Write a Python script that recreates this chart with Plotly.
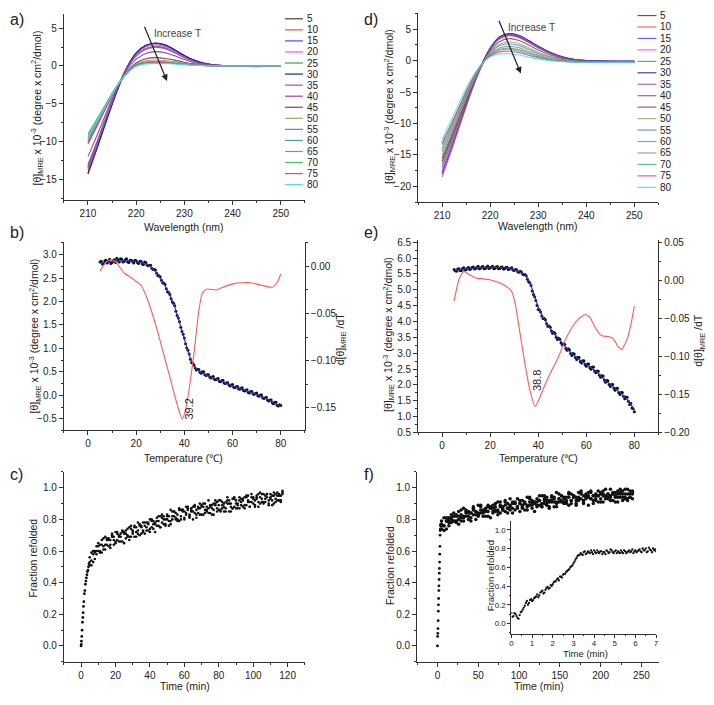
import plotly.graph_objects as go

W, H = 714, 705
FONT = "Liberation Sans, Arial, sans-serif"


def px(x):
    return x / W


def py(y):
    return 1 - y / H


# ---------------- data: CD spectra (a, d) ----------------
temps = [5, 10, 15, 20, 25, 30, 35, 40, 45, 50, 55, 60, 65, 70, 75, 80]
colors = ["#404040", "#FF4848", "#4848FF", "#FF48FF", "#40A040", "#202090",
          "#9050D0", "#A040A0", "#804848", "#A8A070", "#6088B8", "#50A0A0",
          "#A09070", "#40C070", "#E040A0", "#40E0E0"]
wl = [210, 212, 214, 216, 218, 220, 222, 224, 226, 228, 230, 232, 234, 236, 238, 240, 245, 250]

a05 = [-13.5, -10.1, -6.6, -3.2, -0.3, 1.7, 2.7, 3.0, 2.75, 2.1, 1.35, 0.75, 0.35, 0.15, 0.05, 0.0, -0.02, 0.0]
a10 = [-13.8, -10.3, -6.7, -3.25, -0.3, 1.65, 2.65, 2.95, 2.7, 2.05, 1.3, 0.7, 0.35, 0.15, 0.05, 0.0, -0.02, 0.0]
a15 = [-14.2, -10.6, -6.9, -3.35, -0.35, 1.65, 2.7, 3.0, 2.75, 2.1, 1.35, 0.75, 0.35, 0.15, 0.05, 0.0, -0.05, 0.0]
a20 = [-13.2, -9.9, -6.4, -3.1, -0.3, 1.55, 2.5, 2.8, 2.55, 1.95, 1.25, 0.7, 0.3, 0.12, 0.04, 0.0, -0.02, 0.0]
a25 = [-13.0, -9.8, -6.3, -3.05, -0.35, 1.4, 2.3, 2.6, 2.4, 1.8, 1.15, 0.62, 0.28, 0.1, 0.03, 0.0, -0.02, 0.0]
a30 = [-14.3, -10.7, -6.95, -3.4, -0.3, 1.75, 2.75, 3.05, 2.8, 2.15, 1.4, 0.78, 0.38, 0.16, 0.06, 0.0, -0.08, 0.0]
a35 = [-13.3, -10.0, -6.5, -3.1, -0.4, 1.3, 2.2, 2.5, 2.3, 1.75, 1.1, 0.6, 0.28, 0.1, 0.03, 0.0, -0.02, 0.0]
a40 = [-12.0, -9.0, -5.9, -2.9, -0.55, 0.9, 1.65, 1.9, 1.75, 1.35, 0.85, 0.45, 0.2, 0.08, 0.02, 0.0, -0.02, 0.0]
a45 = [-10.3, -7.8, -5.2, -2.75, -0.8, 0.4, 0.95, 1.1, 1.0, 0.78, 0.5, 0.28, 0.12, 0.05, 0.01, 0.0, -0.01, 0.0]
a50 = [-10.0, -7.6, -5.1, -2.7, -0.9, 0.25, 0.7, 0.8, 0.72, 0.55, 0.37, 0.2, 0.1, 0.04, 0.01, 0.0, 0.0, 0.0]
a55 = [-9.6, -7.3, -4.9, -2.7, -0.95, 0.15, 0.52, 0.6, 0.55, 0.42, 0.28, 0.16, 0.08, 0.03, 0.01, 0.0, 0.0, 0.0]
a60 = [-9.8, -7.4, -5.0, -2.7, -1.0, 0.1, 0.48, 0.55, 0.5, 0.4, 0.26, 0.15, 0.07, 0.03, 0.01, 0.0, 0.0, 0.0]
a65 = [-9.3, -7.1, -4.8, -2.65, -1.0, 0.05, 0.42, 0.5, 0.46, 0.36, 0.24, 0.14, 0.07, 0.03, 0.0, 0.0, 0.0, 0.0]
a70 = [-9.0, -6.9, -4.7, -2.6, -1.0, 0.05, 0.42, 0.5, 0.46, 0.36, 0.24, 0.14, 0.07, 0.03, 0.0, 0.0, 0.0, 0.0]
a75 = [-10.2, -7.7, -5.2, -2.8, -1.05, 0.02, 0.38, 0.45, 0.42, 0.33, 0.22, 0.13, 0.06, 0.02, 0.0, 0.0, 0.0, 0.0]
a80 = [-9.5, -7.2, -4.9, -2.7, -1.05, -0.05, 0.28, 0.35, 0.33, 0.27, 0.18, 0.1, 0.05, 0.02, 0.0, 0.0, 0.0, 0.0]

d05 = [-15.5, -11.8, -7.9, -4.2, -0.9, 1.9, 3.7, 4.2, 3.95, 3.15, 2.25, 1.45, 0.8, 0.38, 0.12, 0.0, -0.1, -0.1]
d10 = [-16.0, -12.2, -8.2, -4.4, -1.0, 1.9, 3.7, 4.2, 3.9, 3.1, 2.2, 1.4, 0.8, 0.35, 0.12, 0.0, -0.1, -0.1]
d15 = [-17.0, -13.0, -8.8, -4.7, -1.1, 1.95, 3.8, 4.3, 4.0, 3.2, 2.3, 1.5, 0.85, 0.4, 0.15, 0.0, -0.1, -0.1]
d20 = [-17.5, -13.4, -9.0, -4.8, -1.2, 1.8, 3.6, 4.1, 3.8, 3.0, 2.15, 1.4, 0.8, 0.35, 0.12, 0.0, -0.1, -0.1]
d25 = [-16.5, -12.6, -8.5, -4.5, -1.1, 1.8, 3.5, 4.0, 3.7, 2.95, 2.1, 1.35, 0.75, 0.33, 0.1, -0.02, -0.12, -0.12]
d30 = [-18.0, -13.8, -9.3, -4.9, -1.0, 2.0, 3.8, 4.3, 4.0, 3.2, 2.3, 1.5, 0.85, 0.4, 0.15, 0.0, -0.1, -0.1]
d35 = [-18.5, -14.2, -9.6, -5.1, -1.2, 1.9, 3.7, 4.2, 3.9, 3.1, 2.2, 1.4, 0.8, 0.35, 0.12, -0.02, -0.12, -0.12]
d40 = [-17.8, -13.7, -9.3, -5.0, -1.2, 1.8, 3.5, 4.0, 3.7, 2.9, 2.05, 1.3, 0.7, 0.3, 0.08, -0.05, -0.15, -0.15]
d45 = [-16.0, -12.3, -8.3, -4.5, -1.2, 1.5, 3.05, 3.5, 3.2, 2.5, 1.7, 1.05, 0.55, 0.2, 0.02, -0.1, -0.18, -0.18]
d50 = [-15.0, -11.5, -7.8, -4.2, -1.1, 1.3, 2.6, 3.0, 2.7, 2.05, 1.35, 0.8, 0.38, 0.1, -0.05, -0.15, -0.2, -0.2]
d55 = [-14.5, -11.1, -7.5, -4.0, -1.0, 1.2, 2.4, 2.7, 2.4, 1.8, 1.15, 0.65, 0.28, 0.05, -0.1, -0.18, -0.22, -0.22]
d60 = [-14.0, -10.7, -7.2, -3.8, -1.0, 1.0, 2.05, 2.3, 2.05, 1.5, 0.9, 0.45, 0.15, -0.03, -0.15, -0.22, -0.25, -0.25]
d65 = [-13.5, -10.3, -6.9, -3.6, -0.9, 0.9, 1.8, 2.0, 1.75, 1.25, 0.72, 0.32, 0.05, -0.1, -0.2, -0.25, -0.28, -0.28]
d70 = [-13.0, -9.9, -6.6, -3.4, -0.85, 0.85, 1.65, 1.8, 1.55, 1.1, 0.6, 0.25, 0.0, -0.14, -0.22, -0.27, -0.3, -0.3]
d75 = [-13.2, -10.0, -6.6, -3.4, -0.85, 0.75, 1.4, 1.5, 1.28, 0.85, 0.45, 0.15, -0.05, -0.17, -0.24, -0.28, -0.3, -0.3]
d80 = [-12.5, -9.3, -6.0, -3.0, -0.7, 0.6, 1.05, 1.1, 0.9, 0.55, 0.25, 0.05, -0.1, -0.2, -0.25, -0.3, -0.3, -0.3]

spec_a = [a05, a10, a15, a20, a25, a30, a35, a40, a45, a50, a55, a60, a65, a70, a75, a80]
spec_d = [d05, d10, d15, d20, d25, d30, d35, d40, d45, d50, d55, d60, d65, d70, d75, d80]

# ---------------- data: thermal melts (b, e) ----------------
T1 = [5, 6, 7, 8, 9, 10, 11, 12, 13, 14, 15, 16, 17, 18, 19, 20, 21, 22, 23, 24,
      25, 26, 27, 28, 29, 30, 31, 32, 33, 34, 35, 36, 37, 38, 39, 40, 41, 42, 43, 44,
      45, 46, 47, 48, 49, 50, 51, 52, 53, 54, 55, 56, 57, 58, 59, 60, 61, 62, 63, 64,
      65, 66, 67, 68, 69, 70, 71, 72, 73, 74, 75, 76, 77, 78, 79, 80]
T2 = [5.5, 6.5, 7.5, 8.5, 9.5, 10.5, 11.5, 12.5, 13.5, 14.5, 15.5, 16.5, 17.5, 18.5, 19.5,
      20.5, 21.5, 22.5, 23.5, 24.5, 25.5, 26.5, 27.5, 28.5, 29.5, 30.5, 31.5, 32.5, 33.5,
      34.5, 35.5, 36.5, 37.5, 38.5, 39.5, 40.5, 41.5, 42.5, 43.5, 44.5, 45.5, 46.5, 47.5,
      48.5, 49.5, 50.5, 51.5, 52.5, 53.5, 54.5, 55.5, 56.5, 57.5, 58.5, 59.5, 60.5, 61.5,
      62.5, 63.5, 64.5, 65.5, 66.5, 67.5, 68.5, 69.5, 70.5, 71.5, 72.5, 73.5, 74.5, 75.5,
      76.5, 77.5, 78.5, 79.5]

b_y1 = [2.84, 2.80, 2.87, 2.82, 2.90, 2.83, 2.89, 2.92, 2.84, 2.90,
        2.85, 2.91, 2.83, 2.88, 2.82, 2.87, 2.81, 2.86, 2.79, 2.83,
        2.76, 2.77, 2.68, 2.67, 2.55, 2.52, 2.40, 2.36, 2.21, 2.15,
        1.99, 1.91, 1.70, 1.57, 1.36, 1.22, 1.01, 0.88, 0.70, 0.64,
        0.54, 0.55, 0.47, 0.50, 0.42, 0.44, 0.37, 0.40, 0.33, 0.36,
        0.29, 0.32, 0.25, 0.27, 0.20, 0.23, 0.16, 0.19, 0.13, 0.16,
        0.09, 0.12, 0.05, 0.08, 0.02, 0.05, -0.02, 0.01, -0.07, -0.04,
        -0.12, -0.10, -0.18, -0.15, -0.23, -0.22]
b_y2 = [2.86, 2.81, 2.88, 2.85, 2.81, 2.87, 2.83, 2.88, 2.91, 2.84,
        2.89, 2.84, 2.88, 2.85, 2.88, 2.83, 2.85, 2.80, 2.84, 2.78,
        2.77, 2.71, 2.68, 2.60, 2.55, 2.45, 2.39, 2.27, 2.19, 2.06,
        1.96, 1.79, 1.65, 1.45, 1.30, 1.10, 0.96, 0.77, 0.68, 0.58,
        0.55, 0.49, 0.50, 0.44, 0.44, 0.39, 0.39, 0.34, 0.35, 0.30,
        0.31, 0.26, 0.27, 0.22, 0.22, 0.17, 0.18, 0.14, 0.15, 0.10,
        0.11, 0.06, 0.08, 0.03, 0.04, -0.01, 0.00, -0.05, -0.05, -0.10,
        -0.10, -0.16, -0.15, -0.21, -0.20]
b_fit_T = [5, 10, 15, 20, 25, 28, 30, 32, 34, 36, 38, 40, 42, 44, 46, 50, 55, 60, 65, 70, 75, 80]
b_fit = [2.82, 2.85, 2.87, 2.85, 2.78, 2.64, 2.50, 2.33, 2.13, 1.88, 1.55, 1.20, 0.86, 0.62,
         0.52, 0.41, 0.31, 0.20, 0.11, 0.02, -0.10, -0.24]
b_d_T = [5, 7, 9, 11, 13, 15, 18, 20, 22, 25, 29, 33, 36, 38, 39.2, 40.5, 42, 44, 46, 47.5,
         49.5, 53, 56, 61, 67, 72, 76.5, 78.5, 80]
b_d = [-0.005, 0.003, 0.007, 0.006, 0.0, -0.007, -0.012, -0.016, -0.020, -0.037, -0.070,
       -0.108, -0.137, -0.155, -0.162, -0.152, -0.130, -0.092, -0.047, -0.028, -0.024,
       -0.025, -0.022, -0.018, -0.017, -0.020, -0.022, -0.017, -0.008]

e_y1 = [5.64, 5.58, 5.66, 5.61, 5.69, 5.63, 5.70, 5.66, 5.72, 5.67,
        5.74, 5.68, 5.73, 5.67, 5.75, 5.69, 5.74, 5.68, 5.73, 5.67,
        5.72, 5.66, 5.71, 5.65, 5.69, 5.61, 5.63, 5.55, 5.56, 5.47,
        5.44, 5.25, 5.13, 4.85, 4.66, 4.38, 4.30, 4.09, 4.05, 3.85,
        3.82, 3.63, 3.62, 3.43, 3.44, 3.26, 3.28, 3.09, 3.11, 2.93,
        2.97, 2.80, 2.86, 2.69, 2.76, 2.59, 2.66, 2.49, 2.56, 2.38,
        2.43, 2.24, 2.28, 2.08, 2.13, 1.95, 2.01, 1.83, 1.89, 1.70,
        1.76, 1.56, 1.61, 1.38, 1.27, 1.15]
e_y2 = [5.60, 5.65, 5.60, 5.67, 5.62, 5.68, 5.64, 5.70, 5.65, 5.71,
        5.66, 5.72, 5.66, 5.71, 5.67, 5.72, 5.66, 5.72, 5.66, 5.71,
        5.65, 5.70, 5.64, 5.68, 5.62, 5.64, 5.57, 5.58, 5.50, 5.48,
        5.33, 5.22, 4.96, 4.78, 4.50, 4.36, 4.17, 4.09, 3.93, 3.86,
        3.70, 3.66, 3.50, 3.47, 3.32, 3.30, 3.15, 3.14, 2.99, 2.99,
        2.86, 2.87, 2.74, 2.76, 2.64, 2.66, 2.54, 2.56, 2.43, 2.44,
        2.30, 2.29, 2.15, 2.14, 2.01, 2.01, 1.89, 1.89, 1.76, 1.76,
        1.64, 1.62, 1.48, 1.42, 1.25]
e_fit_T = [5, 10, 15, 20, 25, 29, 32, 34.5, 36.5, 38.5, 40.5, 43, 46, 48.5, 51, 54, 57, 60,
           64, 68, 72, 76, 78, 80]
e_fit = [5.61, 5.66, 5.69, 5.71, 5.70, 5.66, 5.57, 5.48, 5.22, 4.80, 4.36, 4.01, 3.68, 3.45,
         3.23, 2.98, 2.80, 2.65, 2.43, 2.14, 1.89, 1.62, 1.45, 1.21]
e_d_T = [5, 7, 9, 11, 14, 19.5, 25, 27.5, 29, 30.5, 32.5, 34.5, 36.5, 38.8, 40.8, 43, 45.7,
         48.4, 51.2, 54, 56.7, 59.5, 61.6, 63.7, 66.4, 69.2, 71.3, 73.4, 74.7, 76.8, 78.6, 80]
e_d = [-0.027, 0.001, 0.012, 0.008, 0.003, 0.001, -0.005, -0.010, -0.015, -0.032, -0.071,
       -0.110, -0.144, -0.166, -0.153, -0.136, -0.118, -0.101, -0.079, -0.062, -0.051,
       -0.045, -0.049, -0.062, -0.073, -0.074, -0.077, -0.088, -0.091, -0.079, -0.058, -0.034]

# ---------------- data: refolding kinetics (c, f) ----------------
c_t0 = [0, 0.1, 0.2, 0.4, 0.6, 0.8, 1.0, 1.2, 1.4, 1.6, 1.9, 2.2, 2.5, 2.8, 3.1, 3.4, 3.7, 4.0, 4.3, 4.6]
c_y0 = [0.0, 0.01, 0.03, 0.06, 0.10, 0.15, 0.18, 0.21, 0.25, 0.28, 0.33, 0.35, 0.39, 0.41, 0.43,
        0.45, 0.47, 0.48, 0.50, 0.52]
c_t = [5, 6, 7, 8, 9, 10, 11, 12, 13, 14, 15, 16, 17, 18, 19, 20, 21, 22, 23, 24, 25, 26, 27,
       28, 29, 30, 31, 32, 33, 34, 35, 36, 37, 38, 39, 40, 41, 42, 43, 44, 45, 46, 47, 48, 49,
       50, 51, 52, 53, 54, 55, 56, 57, 58, 59, 60, 61, 62, 63, 64, 65, 66, 67, 68, 69, 70, 71,
       72, 73, 74, 75, 76, 77, 78, 79, 80, 81, 82, 83, 84, 85, 86, 87, 88, 89, 90, 91, 92, 93,
       94, 95, 96, 97, 98, 99, 100, 101, 102, 103, 104, 105, 106, 107, 108, 109, 110, 111, 112,
       113, 114, 115, 116, 117]
c_y1 = [0.56, 0.54, 0.53, 0.60, 0.60, 0.65, 0.60, 0.64, 0.61, 0.69,
        0.64, 0.68, 0.62, 0.70, 0.69, 0.66, 0.72, 0.66, 0.69, 0.72,
        0.65, 0.71, 0.74, 0.69, 0.76, 0.71, 0.69, 0.75, 0.78, 0.70,
        0.75, 0.72, 0.78, 0.75, 0.73, 0.80, 0.75, 0.79, 0.72, 0.81,
        0.79, 0.75, 0.83, 0.77, 0.80, 0.82, 0.76, 0.86, 0.80, 0.85,
        0.80, 0.83, 0.79, 0.86, 0.86, 0.81, 0.84, 0.88, 0.83, 0.86,
        0.80, 0.88, 0.86, 0.84, 0.90, 0.83, 0.88, 0.86, 0.86, 0.92,
        0.84, 0.89, 0.83, 0.89, 0.91, 0.86, 0.92, 0.87, 0.85, 0.91,
        0.94, 0.85, 0.90, 0.87, 0.93, 0.90, 0.87, 0.94, 0.89, 0.93,
        0.87, 0.94, 0.92, 0.88, 0.96, 0.90, 0.92, 0.94, 0.88, 0.97,
        0.91, 0.96, 0.91, 0.94, 0.89, 0.96, 0.95, 0.90, 0.93, 0.97,
        0.92, 0.95, 0.97]
c_y2 = [0.51, 0.59, 0.58, 0.55, 0.63, 0.60, 0.64, 0.59, 0.68, 0.64,
        0.68, 0.63, 0.67, 0.69, 0.64, 0.72, 0.67, 0.70, 0.66, 0.73,
        0.72, 0.68, 0.70, 0.75, 0.69, 0.73, 0.75, 0.69, 0.73, 0.76,
        0.71, 0.78, 0.76, 0.73, 0.78, 0.72, 0.79, 0.77, 0.78, 0.76,
        0.82, 0.75, 0.81, 0.80, 0.76, 0.83, 0.79, 0.79, 0.85, 0.82,
        0.84, 0.79, 0.86, 0.82, 0.85, 0.80, 0.88, 0.86, 0.82, 0.85,
        0.88, 0.84, 0.81, 0.88, 0.87, 0.89, 0.83, 0.90, 0.85, 0.87,
        0.88, 0.83, 0.90, 0.90, 0.87, 0.92, 0.85, 0.89, 0.88, 0.87,
        0.92, 0.90, 0.85, 0.93, 0.88, 0.92, 0.89, 0.87, 0.93, 0.92,
        0.89, 0.95, 0.91, 0.88, 0.94, 0.93, 0.88, 0.95, 0.91, 0.94,
        0.96, 0.91, 0.93, 0.96, 0.90, 0.94, 0.92, 0.97, 0.91, 0.95,
        0.95, 0.91, 0.96]
c_y3 = [0.53, 0.51, 0.60, 0.59, 0.58, 0.63, 0.59, 0.67, 0.63, 0.61,
        0.67, 0.67, 0.64, 0.71, 0.67, 0.65, 0.71, 0.69, 0.71, 0.66,
        0.71, 0.73, 0.69, 0.67, 0.74, 0.72, 0.76, 0.72, 0.71, 0.77,
        0.76, 0.73, 0.71, 0.78, 0.77, 0.74, 0.80, 0.74, 0.77, 0.79,
        0.76, 0.82, 0.78, 0.82, 0.77, 0.80, 0.82, 0.77, 0.82, 0.85,
        0.81, 0.80, 0.87, 0.80, 0.86, 0.85, 0.83, 0.87, 0.81, 0.87,
        0.85, 0.89, 0.83, 0.87, 0.83, 0.88, 0.90, 0.84, 0.88, 0.84,
        0.89, 0.87, 0.86, 0.92, 0.85, 0.89, 0.86, 0.91, 0.90, 0.85,
        0.90, 0.92, 0.88, 0.87, 0.94, 0.87, 0.90, 0.92, 0.91, 0.88,
        0.94, 0.89, 0.95, 0.91, 0.91, 0.94, 0.89, 0.93, 0.96, 0.90,
        0.93, 0.90, 0.95, 0.96, 0.92, 0.93, 0.89, 0.95, 0.96, 0.92,
        0.96, 0.92, 0.98]

f_t0 = [0.0, 0.2, 0.4, 0.6, 0.8, 1.0, 1.2, 1.4, 1.6, 1.8, 2.0, 2.2, 2.4, 2.6, 2.8, 3.0, 3.2, 3.4,
        3.6, 3.8, 4.0]
f_y0 = [0.0, 0.06, 0.08, 0.11, 0.16, 0.22, 0.26, 0.30, 0.35, 0.38, 0.42, 0.46, 0.49, 0.53, 0.58,
        0.63, 0.70, 0.73, 0.74, 0.76, 0.77]
f_t = [5, 8, 11, 14, 17, 20, 23, 26, 29, 32, 35, 38, 41, 44, 47, 50, 53, 56, 59, 62, 65, 68, 71,
       74, 77, 80, 83, 86, 89, 92, 95, 98, 101, 104, 107, 110, 113, 116, 119, 122, 125, 128,
       131, 134, 137, 140, 143, 146, 149, 152, 155, 158, 161, 164, 167, 170, 173, 176, 179,
       182, 185, 188, 191, 194, 197, 200, 203, 206, 209, 212, 215, 218, 221, 224, 227, 230,
       233, 236, 239]
f_y1 = [0.79, 0.76, 0.74, 0.81, 0.80, 0.84, 0.79, 0.82, 0.79, 0.87,
        0.82, 0.85, 0.79, 0.87, 0.85, 0.83, 0.89, 0.82, 0.85, 0.88,
        0.81, 0.87, 0.90, 0.85, 0.91, 0.86, 0.85, 0.90, 0.93, 0.84,
        0.90, 0.87, 0.92, 0.89, 0.86, 0.94, 0.89, 0.92, 0.85, 0.93,
        0.92, 0.88, 0.95, 0.89, 0.91, 0.94, 0.88, 0.97, 0.91, 0.95,
        0.90, 0.94, 0.89, 0.96, 0.95, 0.90, 0.93, 0.98, 0.92, 0.95,
        0.89, 0.97, 0.95, 0.92, 0.98, 0.91, 0.96, 0.95, 0.94, 0.99,
        0.92, 0.97, 0.91, 0.96, 0.98, 0.93, 0.99, 0.94, 0.93]
f_y2 = [0.74, 0.81, 0.79, 0.76, 0.83, 0.79, 0.83, 0.77, 0.86, 0.82,
        0.86, 0.80, 0.84, 0.86, 0.80, 0.89, 0.84, 0.86, 0.82, 0.89,
        0.88, 0.84, 0.86, 0.91, 0.84, 0.88, 0.91, 0.84, 0.88, 0.90,
        0.86, 0.93, 0.90, 0.87, 0.91, 0.86, 0.93, 0.90, 0.91, 0.88,
        0.95, 0.88, 0.93, 0.92, 0.87, 0.95, 0.91, 0.90, 0.96, 0.92,
        0.94, 0.90, 0.96, 0.92, 0.94, 0.89, 0.97, 0.96, 0.91, 0.94,
        0.97, 0.93, 0.90, 0.96, 0.95, 0.97, 0.91, 0.99, 0.93, 0.95,
        0.96, 0.91, 0.98, 0.97, 0.94, 0.99, 0.92, 0.96, 0.96]
f_y3 = [0.76, 0.73, 0.81, 0.80, 0.78, 0.82, 0.78, 0.85, 0.81, 0.79,
        0.85, 0.84, 0.81, 0.88, 0.83, 0.82, 0.88, 0.85, 0.87, 0.82,
        0.87, 0.89, 0.85, 0.83, 0.89, 0.87, 0.92, 0.87, 0.86, 0.91,
        0.91, 0.88, 0.85, 0.92, 0.90, 0.88, 0.94, 0.87, 0.90, 0.91,
        0.89, 0.95, 0.90, 0.94, 0.88, 0.92, 0.94, 0.88, 0.93, 0.95,
        0.91, 0.91, 0.97, 0.90, 0.95, 0.94, 0.92, 0.97, 0.90, 0.96,
        0.94, 0.98, 0.92, 0.95, 0.91, 0.96, 0.98, 0.93, 0.96, 0.92,
        0.97, 0.95, 0.94, 0.99, 0.92, 0.96, 0.93, 0.98, 0.98]
f_y4 = [0.77, 0.76, 0.79, 0.78, 0.81, 0.79, 0.82, 0.80, 0.83, 0.81,
        0.84, 0.82, 0.84, 0.83, 0.85, 0.84, 0.86, 0.84, 0.86, 0.85,
        0.87, 0.85, 0.88, 0.86, 0.88, 0.86, 0.89, 0.87, 0.89, 0.87,
        0.90, 0.88, 0.90, 0.88, 0.90, 0.89, 0.91, 0.89, 0.91, 0.89,
        0.92, 0.90, 0.92, 0.90, 0.92, 0.91, 0.93, 0.91, 0.93, 0.91,
        0.93, 0.92, 0.94, 0.92, 0.94, 0.92, 0.94, 0.93, 0.95, 0.93,
        0.95, 0.93, 0.95, 0.93, 0.95, 0.93, 0.95, 0.94, 0.96, 0.94,
        0.96, 0.94, 0.96, 0.94, 0.96, 0.94, 0.96, 0.94, 0.97]

ins_t1 = [0.0, 0.1, 0.2, 0.3, 0.4, 0.5, 0.6, 0.7, 0.8, 0.9, 1.0, 1.1, 1.2, 1.3, 1.4, 1.5, 1.6,
          1.7, 1.8, 1.9, 2.0, 2.1, 2.2, 2.3, 2.4, 2.5, 2.6, 2.7, 2.8, 2.9, 3.0, 3.1, 3.2, 3.3,
          3.4, 3.5, 3.6, 3.7, 3.8, 3.9, 4.0, 4.1, 4.2, 4.3, 4.4, 4.5, 4.6, 4.7, 4.8, 4.9, 5.0,
          5.1, 5.2, 5.3, 5.4, 5.5, 5.6, 5.7, 5.8, 5.9, 6.0, 6.1, 6.2, 6.3, 6.4, 6.5, 6.6, 6.7,
          6.8, 6.9, 7.0]
ins_y1 = [0.11, 0.08, 0.10, 0.06, 0.09, 0.13, 0.17, 0.22, 0.20, 0.25,
          0.24, 0.27, 0.29, 0.28, 0.33, 0.35, 0.33, 0.38, 0.37, 0.41,
          0.42, 0.45, 0.47, 0.46, 0.50, 0.52, 0.53, 0.56, 0.58, 0.61,
          0.64, 0.68, 0.72, 0.73, 0.74, 0.76, 0.74, 0.77, 0.75, 0.76,
          0.78, 0.75, 0.76, 0.77, 0.74, 0.76, 0.78, 0.75, 0.79, 0.76,
          0.77, 0.75, 0.76, 0.78, 0.75, 0.77, 0.76, 0.78, 0.77, 0.75,
          0.78, 0.77, 0.79, 0.76, 0.78, 0.80, 0.77, 0.79, 0.76, 0.78,
          0.77]
ins_t2 = [0.05, 0.15, 0.25, 0.35, 0.45, 0.55, 0.65, 0.75, 0.85, 0.95, 1.05, 1.15, 1.25, 1.35,
          1.45, 1.55, 1.65, 1.75, 1.85, 1.95, 2.05, 2.15, 2.25, 2.35, 2.45, 2.55, 2.65, 2.75,
          2.85, 2.95, 3.05, 3.15, 3.25, 3.35, 3.45, 3.55, 3.65, 3.75, 3.85, 3.95, 4.05, 4.15,
          4.25, 4.35, 4.45, 4.55, 4.65, 4.75, 4.85, 4.95, 5.05, 5.15, 5.25, 5.35, 5.45, 5.55,
          5.65, 5.75, 5.85, 5.95, 6.05, 6.15, 6.25, 6.35, 6.45, 6.55, 6.65, 6.75, 6.85, 6.95]
ins_y2 = [0.07, 0.11, 0.08, 0.05, 0.12, 0.15, 0.19, 0.24, 0.22, 0.26,
          0.25, 0.28, 0.31, 0.30, 0.34, 0.32, 0.36, 0.39, 0.38, 0.40,
          0.44, 0.45, 0.48, 0.50, 0.49, 0.53, 0.55, 0.57, 0.60, 0.62,
          0.66, 0.70, 0.73, 0.75, 0.73, 0.77, 0.75, 0.76, 0.78, 0.74,
          0.76, 0.78, 0.75, 0.77, 0.76, 0.74, 0.77, 0.76, 0.78, 0.75,
          0.78, 0.77, 0.75, 0.76, 0.78, 0.75, 0.77, 0.76, 0.79, 0.77,
          0.76, 0.78, 0.77, 0.80, 0.78, 0.76, 0.81, 0.78, 0.80, 0.79]

# ---------------- figure ----------------
fig = go.Figure()


def line(x, y, xa, ya, color, width=1.1, smoothing=0.8, opacity=1.0):
    fig.add_trace(go.Scatter(x=x, y=y, mode="lines", xaxis=xa, yaxis=ya, opacity=opacity,
                             line=dict(color=color, width=width, shape="spline", smoothing=smoothing),
                             showlegend=False, hoverinfo="skip"))


def dots(x, y, xa, ya, size=2.6, color="#111"):
    fig.add_trace(go.Scatter(x=x, y=y, mode="markers", xaxis=xa, yaxis=ya,
                             marker=dict(color=color, size=size, line=dict(width=0)),
                             showlegend=False, hoverinfo="skip"))


for col, ys in zip(colors, spec_a):
    line(wl, ys, "x", "y", col)
for col, ys in zip(colors, spec_d):
    line(wl, ys, "x2", "y2", col, opacity=0.85)

# b
dots(T1, b_y1, "x3", "y3", size=3)
dots(T2, b_y2, "x3", "y3", size=3)
line(b_fit_T, b_fit, "x3", "y3", "#2233CC", width=1.2, smoothing=0.6)
line(b_d_T, b_d, "x3", "y4", "#FF5A5A", width=1.1, smoothing=0.5)
# e
dots(T1, e_y1, "x4", "y5", size=3)
dots(T2, e_y2, "x4", "y5", size=3)
line(e_fit_T, e_fit, "x4", "y5", "#2233CC", width=1.2, smoothing=0.6)
line(e_d_T, e_d, "x4", "y6", "#FF5A5A", width=1.1, smoothing=0.5)
# c
dots(c_t0, c_y0, "x5", "y7", size=2.8)
for ys in (c_y1, c_y2, c_y3):
    dots(c_t, ys, "x5", "y7", size=2.6)
# f
dots(f_t0, f_y0, "x6", "y8", size=2.8)
for ys in (f_y1, f_y2, f_y3, f_y4):
    dots(f_t, ys, "x6", "y8", size=3.5)
# inset
dots(ins_t1, ins_y1, "x7", "y9", size=2.3)
dots(ins_t2, ins_y2, "x7", "y9", size=2.3)


def ax(domain, rng, dtick, mdtick, anchor, fmt=None, fs=10, tl=4, mtl=2, **kw):
    d = dict(range=rng, dtick=dtick, anchor=anchor, showline=True, linecolor="#333",
             linewidth=1, ticks="outside", ticklen=tl, tickwidth=1, tickcolor="#333",
             showgrid=False, zeroline=False, fixedrange=True,
             tickfont=dict(family=FONT, size=fs, color="#222"),
             minor=dict(dtick=mdtick, ticks="outside", ticklen=mtl, tickcolor="#333",
                        tickwidth=1, showgrid=False))
    if domain is not None:
        d["domain"] = domain
    if fmt:
        d["tickformat"] = fmt
    d.update(kw)
    return d


XL = [px(62.3), px(305)]
XR = [px(419), px(661)]

layout = dict(
    width=W, height=H, margin=dict(l=0, r=0, t=0, b=0),
    paper_bgcolor="white", plot_bgcolor="white", showlegend=False,
    font=dict(family=FONT, color="#222"),
    # a
    xaxis=ax(XL, [205, 255], 10, 5, "y"),
    yaxis=ax([py(200), py(11)], [-17.8, 6.9], 5, 2.5, "x"),
    # d
    xaxis2=ax(XR, [205, 255], 10, 5, "y2"),
    yaxis2=ax([py(201.7), py(10)], [-22.5, 7.6], 5, 2.5, "x2"),
    # b
    xaxis3=ax(XL, [-10, 90], 20, 10, "y3"),
    yaxis3=ax([py(433), py(242)], [-0.75, 3.27], 0.5, 0.25, "x3", fmt=".1f"),
    yaxis4=ax(None, [-0.174, 0.026], 0.05, 0.025, "x3", fmt=".2f", overlaying="y3",
              side="right", tl=3),
    # e
    xaxis4=ax(XR, [-10, 90], 20, 10, "y5"),
    yaxis5=ax([py(435), py(240)], [0.5, 6.57], 0.5, 0.25, "x4", fmt=".1f"),
    yaxis6=ax(None, [-0.2, 0.053], 0.05, 0.025, "x4", fmt=".2f", overlaying="y5",
              side="right", tl=3),
    # c
    xaxis5=ax(XL, [-10, 130], 20, 10, "y7"),
    yaxis7=ax([py(667.3), py(475)], [-0.1, 1.1], 0.2, 0.1, "x5", fmt=".1f"),
    # f
    xaxis6=ax([px(418), px(662)], [-25, 272], 50, 25, "y8"),
    yaxis8=ax([py(667.3), py(475)], [-0.1, 1.1], 0.2, 0.1, "x6", fmt=".1f"),
    # inset
    xaxis7=ax([px(513), px(658.7)], [0, 7], 1, 0.5, "y9", fs=8, tl=3, mtl=1.5,
              ticklabelstandoff=-1),
    yaxis9=ax([py(639), py(525)], [-0.11, 1.09], 0.2, 0.1, "x7", fmt=".1f", fs=8, tl=3, mtl=1.5),
)
fig.update_layout(**layout)

ann = []
shapes = []


def text(x, y, s, size=10.5, angle=0, xanchor="center", yanchor="middle", xref="paper",
         yref="paper", color="#222"):
    ann.append(dict(x=x, y=y, text=s, showarrow=False, textangle=angle, xanchor=xanchor,
                    yanchor=yanchor, xref=xref, yref=yref,
                    font=dict(family=FONT, size=size, color=color)))


# panel labels
for lab, x, y in [("a)", 6, 17), ("b)", 6, 232), ("c)", 6, 478),
                  ("d)", 363, 17), ("e)", 363, 232), ("f)", 363, 478)]:
    text(px(x), py(y), lab, size=16, xanchor="left")

theta_title = "[θ]<sub>MRE</sub> x 10<sup>-3</sup> (degree x cm<sup>2</sup>/dmol)"
deriv_title = "d[θ]<sub>MRE</sub> /dT"
# axis titles
text(px(183), py(227), "Wavelength (nm)")
text(px(540), py(226), "Wavelength (nm)")
text(px(183), py(461), "Temperature (℃)")
text(px(540), py(461), "Temperature (℃)")
text(px(184), py(692), "Time (min)")
text(px(541), py(692), "Time (min)")
text(px(35), py(106), theta_title, angle=-90)
text(px(390), py(105), theta_title, angle=-90)
text(px(33), py(337), theta_title, angle=-90)
text(px(389), py(336), theta_title, angle=-90)
text(px(341), py(340), deriv_title, angle=-90)
text(px(702), py(342), deriv_title, angle=-90)
text(px(31), py(562), "Fraction refolded", angle=-90)
text(px(390), py(570), "Fraction refolded", angle=-90)
text(px(492), py(580), "Fraction refolded", angle=-90, size=9.5)
text(px(588), py(659), "Time (min)", size=9.5)

# Tm labels
text(41.8, -0.29, "39.2", size=11, angle=-90, xref="x3", yref="y3")
text(39.6, 2.13, "38.8", size=11, angle=-90, xref="x4", yref="y5")

# Increase T arrows
for xr, yr, hx, hy, tx, ty, lx, ly in [("x", "y", 226.4, -2.0, 221.6, 5.4, 223.3, 4.35),
                                       ("x2", "y2", 226.4, -2.06, 221.7, 6.57, 223.25, 5.27)]:
    ann.append(dict(x=hx, y=hy, ax=tx, ay=ty, xref=xr, yref=yr, axref=xr, ayref=yr,
                    text="", showarrow=True, arrowhead=2, arrowsize=1.1, arrowwidth=1.2,
                    arrowcolor="#222"))
    text(lx, ly, "Increase T", size=10, xanchor="left", xref=xr, yref=yr, color="#444")

# manual legends
for i, (t, col) in enumerate(zip(temps, colors)):
    ya = py(16 + 11.2 * i)
    shapes.append(dict(type="line", xref="paper", yref="paper", x0=px(285), x1=px(303),
                       y0=ya, y1=ya, line=dict(color=col, width=1.2)))
    text(px(305), ya, str(t), size=10, xanchor="left")
    yd = py(12.7 + 11.6 * i)
    shapes.append(dict(type="line", xref="paper", yref="paper", x0=px(640), x1=px(659),
                       y0=yd, y1=yd, line=dict(color=col, width=1.2), opacity=0.85))
    text(px(661), yd, str(t), size=10, xanchor="left")

fig.update_layout(annotations=ann, shapes=shapes)
fig.write_html("out.html", config={"displayModeBar": False},
               post_script="document.body.style.margin='0';document.body.style.overflow='hidden';")
